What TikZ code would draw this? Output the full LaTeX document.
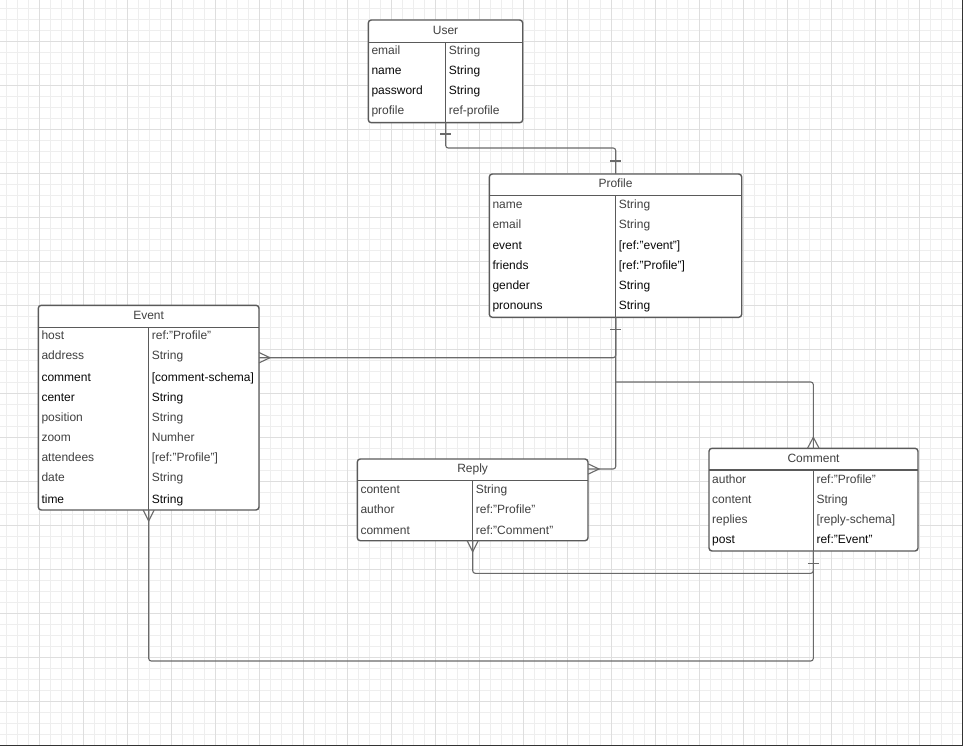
\documentclass[tikz,border=0pt]{standalone}
\usepackage{fontspec}
\setmainfont{Liberation Sans}
\usetikzlibrary{calc}
\definecolor{gridminor}{HTML}{EEEEEE}
\definecolor{gridmajor}{HTML}{DEDEDE}
\definecolor{boxline}{HTML}{5A5A5A}
\definecolor{connline}{HTML}{6A6A6A}
\definecolor{txtdark}{HTML}{080808}
\definecolor{txtgray}{HTML}{404040}
\definecolor{framecol}{HTML}{333333}
\newcommand{\erbox}[8]{%
  \node[tblbox, minimum width={#4-#2}, minimum height={#5-#3}] (#1) at ({(#2+#4)/2},{(#3+#5)/2}) {};
  \draw[tblline] (#2,#6) -- (#4,#6);
  \draw[tblline] (#7,#6) -- (#7,#5);
  \node[ttl] (#1-title) at ({(#2+#4)/2},{(#3+#6)/2+3}) {#8};
}
\newcommand{\errow}[7]{%
  \node[cell,#5] (#1k) at ({#2+3},{#4+4}) {#6};
  \node[cell,#5] (#1v) at ({#3+3},{#4+4}) {#7};
}
\begin{document}
\begin{tikzpicture}[x=1pt,y=-1pt,
  tblbox/.style={draw=boxline, line width=1.4pt, rounded corners=3pt, fill=white, inner sep=0pt, outer sep=0pt},
  tblline/.style={draw=boxline, line width=1.2pt},
  conn/.style={draw=connline, line width=1.1pt, rounded corners=2.5pt},
  endmark/.style={draw=connline, line width=1.1pt},
  cell/.style={anchor=base west, inner sep=0pt, font=\fontsize{12}{14}\selectfont},
  ttl/.style={anchor=base, inner sep=0pt, font=\fontsize{12}{14}\selectfont, text=txtgray},
  dk/.style={text=txtdark}, gr/.style={text=txtgray}]
\useasboundingbox (0,0) rectangle (963,746);
\fill[white] (0,0) rectangle (963,746);
% grid
\foreach \i in {0,...,88} {\draw[gridminor, line width=0.75pt] ({-4.5+11*\i},0) -- ({-4.5+11*\i},746);}
\foreach \j in {0,...,67} {\draw[gridminor, line width=0.75pt] (0,{8.3+11*\j}) -- (963,{8.3+11*\j});}
\foreach \i in {0,...,21} {\draw[gridmajor, line width=0.8pt] ({39.5+44*\i},0) -- ({39.5+44*\i},746);}
\foreach \j in {0,...,16} {\draw[gridmajor, line width=0.8pt] (0,{41.3+44*\j}) -- (963,{41.3+44*\j});}
\draw[framecol, line width=1.2pt] (962.4,0) -- (962.4,745.4) -- (0,745.4);

% tables
\erbox{user}{368.3}{20}{522.7}{122.7}{42.3}{445.7}{User}
\errow{u1}{368.3}{445.7}{50.5}{gr}{email}{String}
\errow{u2}{368.3}{445.7}{71}{dk}{name}{String}
\errow{u3}{368.3}{445.7}{91}{dk}{password}{String}
\errow{u4}{368.3}{445.7}{111}{gr}{profile}{ref-profile}

\erbox{profile}{489.3}{174}{741.7}{317.3}{195.7}{615.7}{Profile}
\errow{p1}{489.3}{615.7}{204}{gr}{name}{String}
\errow{p2}{489.3}{615.7}{224}{gr}{email}{String}
\errow{p3}{489.3}{615.7}{245}{dk}{event}{[ref:"event"]}
\errow{p4}{489.3}{615.7}{265}{dk}{friends}{[ref:"Profile"]}
\errow{p5}{489.3}{615.7}{285}{dk}{gender}{String}
\errow{p6}{489.3}{615.7}{305.3}{dk}{pronouns}{String}

\erbox{event}{38.3}{305.3}{259}{510}{327.3}{148.7}{Event}
\errow{e1}{38.3}{148.7}{335.7}{gr}{host}{ref:"Profile"}
\errow{e2}{38.3}{148.7}{355.7}{gr}{address}{String}
\errow{e3}{38.3}{148.7}{377}{dk}{comment}{[comment-schema]}
\errow{e4}{38.3}{148.7}{397}{dk}{center}{String}
\errow{e5}{38.3}{148.7}{417}{gr}{position}{String}
\errow{e6}{38.3}{148.7}{437.7}{gr}{zoom}{Numher}
\errow{e7}{38.3}{148.7}{457.7}{gr}{attendees}{[ref:"Profile"]}
\errow{e8}{38.3}{148.7}{477.7}{gr}{date}{String}
\errow{e9}{38.3}{148.7}{499}{dk}{time}{String}

\erbox{reply}{357.3}{459}{588}{540.7}{480.7}{472.7}{Reply}
\errow{r1}{357.3}{472.7}{489}{gr}{content}{String}
\errow{r2}{357.3}{472.7}{509.3}{gr}{author}{ref:"Profile"}
\errow{r3}{357.3}{472.7}{530}{gr}{comment}{ref:"Comment"}

\erbox{comment}{709}{448.3}{918}{551}{470}{813.3}{Comment}
\errow{c1}{709}{813.3}{479}{gr}{author}{ref:"Profile"}
\errow{c2}{709}{813.3}{499}{gr}{content}{String}
\errow{c3}{709}{813.3}{519}{gr}{replies}{[reply-schema]}
\errow{c4}{709}{813.3}{539.7}{dk}{post}{ref:"Event"}

% attachment coordinates
\coordinate (xu) at (445.7,0);
\coordinate (xp) at (615.7,0);
\coordinate (xe) at (148.7,0);
\coordinate (xr) at (472.7,0);
\coordinate (xc) at (813.3,0);
\coordinate (yev) at (0,357.7);
\coordinate (yrp) at (0,469);
\coordinate (ycb) at (0,382);
\coordinate (yrb) at (0,573.3);
\coordinate (yeb) at (0,661);

% connectors
\draw[conn] (user.south -| xu) -- ++(0,25.3) -| (profile.north -| xp);
\draw[conn] (profile.south -| xp) |- (event.east |- yev);
\draw[conn] (profile.south -| xp) |- (reply.east |- yrp);
\draw[conn] (xp |- ycb) -| (comment.north -| xc);
\draw[conn] (reply.south -| xr) -- (xr |- yrb) -| (comment.south -| xc);
\draw[conn] (event.south -| xe) -- (xe |- yeb) -| (comment.south -| xc);

% one marks
\draw[endmark] ($(user.south -| xu)+(-5.5,11.3)$) -- ++(11,0);
\draw[endmark] ($(profile.north -| xp)+(-5.5,-13)$) -- ++(11,0);
\draw[endmark] ($(profile.south -| xp)+(-5.5,12)$) -- ++(11,0);
\draw[endmark] ($(comment.south -| xc)+(-5.5,12.3)$) -- ++(11,0);

% crow's feet
\draw[endmark] ($(event.east |- yev)+(0,-5.2)$) -- ($(event.east |- yev)+(11,0)$) -- ($(event.east |- yev)+(0,5.2)$);
\draw[endmark] ($(reply.east |- yrp)+(0,-5.2)$) -- ($(reply.east |- yrp)+(11,0)$) -- ($(reply.east |- yrp)+(0,5.2)$);
\draw[endmark] ($(comment.north -| xc)+(-5.8,0)$) -- ($(comment.north -| xc)+(0,-11)$) -- ($(comment.north -| xc)+(5.8,0)$);
\draw[endmark] ($(reply.south -| xr)+(-5.5,0)$) -- ($(reply.south -| xr)+(0,11)$) -- ($(reply.south -| xr)+(5.5,0)$);
\draw[endmark] ($(event.south -| xe)+(-5.5,0)$) -- ($(event.south -| xe)+(0,11)$) -- ($(event.south -| xe)+(5.5,0)$);
\end{tikzpicture}
\end{document}
